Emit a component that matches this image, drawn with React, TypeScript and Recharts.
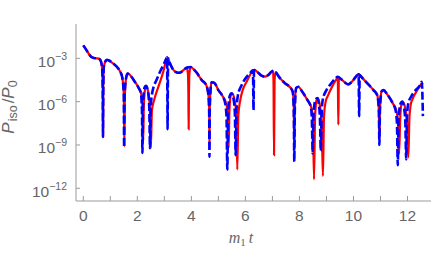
import React from "react"
import { LineChart, Line, XAxis, YAxis } from "recharts"

// time axis (m1 t) and log10(P_iso / P_0)
const redT = [
  0, 0.1, 0.2, 0.3, 0.4, 0.5, 0.6, 0.66, 0.7, 0.72, 0.73, 0.74, 0.76, 0.82, 0.88, 0.95,
  1.1, 1.25, 1.36, 1.44, 1.5, 1.52, 1.54, 1.59, 1.64, 1.75, 1.9, 2.05, 2.15, 2.2, 2.22,
  2.24, 2.29, 2.33, 2.4, 2.46, 2.5, 2.54, 2.62, 2.78, 2.96, 3.06, 3.12, 3.2, 3.3, 3.4,
  3.52, 3.62, 3.72, 3.82, 3.87, 3.89, 3.9, 3.91, 3.93, 3.97, 4.05, 4.2, 4.38, 4.55, 4.63,
  4.66, 4.67, 4.68, 4.71, 4.75, 4.85, 5.0, 5.15, 5.28, 5.35, 5.38, 5.41, 5.47, 5.52, 5.6,
  5.66, 5.7, 5.74, 5.8, 5.9, 6.05, 6.2, 6.33, 6.45, 6.6, 6.73, 6.85, 6.95, 7.02, 7.04,
  7.06, 7.08, 7.12, 7.25, 7.47, 7.65, 7.75, 7.79, 7.81, 7.83, 7.88, 7.96, 8.1, 8.3, 8.44,
  8.5, 8.54, 8.58, 8.64, 8.69, 8.76, 8.82, 8.87, 8.91, 8.97, 9.05, 9.2, 9.35, 9.42, 9.44,
  9.46, 9.55, 9.7, 9.81, 9.95, 10.1, 10.2, 10.3, 10.5, 10.74, 10.88, 10.94, 10.96, 10.98,
  11.04, 11.11, 11.25, 11.45, 11.58, 11.65, 11.69, 11.73, 11.78, 11.84, 11.92, 11.98,
  12.03, 12.07, 12.12, 12.18, 12.3, 12.45, 12.53, 12.57,
]
const redLog = [
  -2.1, -2.38, -2.68, -2.9, -2.98, -3.0, -3.05, -3.25, -3.8, -5.2, -8.4, -5.2, -3.6, -3.2, -3.1, -3.15,
  -3.35, -3.6, -3.9, -4.3, -5.5, -9.1, -5.5, -4.3, -4.05, -4.2, -4.6, -5.05, -5.5, -6.5, -8.7,
  -6.3, -5.1, -4.95, -5.3, -6.3, -9.2, -6.6, -5.9, -4.96, -3.93, -3.2, -3.0, -3.3, -3.7, -3.92,
  -4.0, -3.95, -3.8, -3.65, -4.0, -5.5, -7.9, -5.5, -4.0, -3.6, -3.7, -4.0, -4.5, -4.85, -5.5,
  -6.5, -8.9, -6.5, -5.2, -4.65, -4.7, -5.2, -5.6, -6.1, -6.8, -9.2, -6.6, -5.5, -5.45, -5.9,
  -6.8, -10.7, -6.9, -6.0, -5.2, -4.6, -4.05, -3.8, -3.95, -4.2, -4.27, -4.15, -3.95, -3.87, -4.5,
  -9.7, -4.5, -3.95, -4.3, -4.73, -5.0, -5.3, -6.3, -9.3, -6.3, -5.05, -4.97, -5.3, -5.9, -6.4,
  -7.2, -11.38, -7.0, -5.85, -5.75, -6.3, -7.3, -11.15, -7.0, -6.0, -5.6, -5.0, -4.5, -4.3, -7.6,
  -4.35, -4.45, -4.7, -4.8, -4.6, -4.25, -4.11, -4.3, -4.7, -5.2, -5.55, -6.5, -8.6, -6.5,
  -5.3, -5.2, -5.5, -6.1, -6.6, -7.3, -9.6, -7.2, -6.15, -6.05, -6.5, -7.4,
  -9.86, -7.2, -6.2, -5.85, -5.4, -4.95, -4.73, -4.8,
]

const blueT = [
  0, 0.1, 0.2, 0.3, 0.4, 0.5, 0.6, 0.66, 0.7, 0.72, 0.73, 0.74, 0.76, 0.82, 0.88, 0.95,
  1.1, 1.25, 1.36, 1.44, 1.5, 1.51, 1.53, 1.59, 1.64, 1.75, 1.9, 2.05, 2.13, 2.17, 2.19,
  2.21, 2.27, 2.32, 2.39, 2.44, 2.47, 2.5, 2.55, 2.59, 2.71, 2.84, 3.02, 3.1, 3.11, 3.12,
  3.13, 3.14, 3.2, 3.3, 3.4, 3.52, 3.62, 3.72, 3.82, 3.9, 3.97, 4.05, 4.2, 4.38, 4.55,
  4.63, 4.66, 4.67, 4.68, 4.71, 4.75, 4.85, 5.0, 5.15, 5.25, 5.3, 5.33, 5.36, 5.42, 5.49,
  5.56, 5.61, 5.64, 5.67, 5.72, 5.85, 6.0, 6.17, 6.28, 6.3, 6.32, 6.33, 6.45, 6.6, 6.73,
  6.85, 6.95, 7.04, 7.12, 7.25, 7.47, 7.65, 7.75, 7.79, 7.81, 7.83, 7.88, 7.96, 8.1, 8.3,
  8.42, 8.46, 8.49, 8.52, 8.58, 8.66, 8.72, 8.76, 8.79, 8.82, 8.86, 9.0, 9.15, 9.3, 9.42,
  9.55, 9.7, 9.81, 9.95, 10.1, 10.19, 10.21, 10.23, 10.3, 10.5, 10.74, 10.88, 10.94, 10.96,
  10.98, 11.04, 11.11, 11.25, 11.45, 11.56, 11.61, 11.64, 11.67, 11.73, 11.81, 11.87, 11.92,
  11.95, 11.98, 12.02, 12.15, 12.3, 12.45, 12.53, 12.57,
]
const blueLog = [
  -2.1, -2.38, -2.68, -2.9, -2.98, -3.0, -3.05, -3.25, -3.8, -5.2, -8.45, -5.2, -3.6, -3.2, -3.1, -3.15,
  -3.35, -3.6, -3.9, -4.3, -5.5, -9.15, -5.5, -4.3, -4.05, -4.2, -4.6, -5.05, -5.4, -6.5, -9.55,
  -6.3, -5.0, -4.9, -5.25, -6.3, -9.23, -6.3, -5.4, -5.06, -4.5, -3.93, -3.24, -2.92, -5.0, -7.9,
  -5.0, -3.0, -3.3, -3.7, -3.92, -4.0, -3.95, -3.8, -3.65, -3.62, -3.6, -3.7, -4.0, -4.5, -4.85,
  -5.5, -6.8, -9.82, -6.8, -5.2, -4.65, -4.7, -5.2, -5.6, -6.1, -7.0, -10.7, -6.8, -5.6, -5.42,
  -5.8, -6.8, -9.7, -6.6, -5.6, -4.9, -4.4, -4.04, -3.82, -6.58, -3.85, -3.81, -3.95, -4.2, -4.27,
  -4.15, -3.95, -3.86, -3.95, -4.3, -4.73, -5.0, -5.3, -6.5, -10.15, -6.5, -5.05, -4.97, -5.3, -5.9,
  -6.35, -7.2, -9.58, -7.0, -5.95, -5.75, -6.2, -7.2, -9.4, -7.0, -5.9, -5.2, -4.8, -4.45, -4.27,
  -4.45, -4.7, -4.8, -4.6, -4.25, -4.11, -7.0, -4.15, -4.3, -4.7, -5.2, -5.55, -6.6, -9.0,
  -6.6, -5.3, -5.2, -5.5, -6.1, -6.6, -7.5, -10.4, -7.3, -6.2, -6.0, -6.4, -7.4,
  -10.0, -7.2, -6.2, -5.6, -5.2, -4.9, -4.62, -7.0,
]

const xTicks = [0, 1, 2, 3, 4, 5, 6, 7, 8, 9, 10, 11, 12]
const yTicks = [-12, -9, -6, -3]

const redData = redT.map((t, i) => ({ t, v: redLog[i] }))
const blueData = blueT.map((t, i) => ({ t, v: blueLog[i] }))

const frame = "#9a9a9a"
const textGray = "#666666"
const sans = "'Liberation Sans', Arial, sans-serif"

const BottomTick = (props: any) => {
  const { x, y, payload } = props
  const v = payload.value
  return (
    <g>
      <line x1={x} x2={x} y1={y} y2={y - 5} stroke={frame} strokeWidth={1} />
      {v % 2 === 0 && (
        <text x={x} y={y + 20} textAnchor="middle" fontSize={15.5} fontFamily={sans} fill={textGray}>
          {v}
        </text>
      )}
    </g>
  )
}

const TopTick = (props: any) => {
  const { x, y } = props
  return <line x1={x} x2={x} y1={y} y2={y + 5} stroke={frame} strokeWidth={1} />
}

const LeftTick = (props: any) => {
  const { x, y, payload } = props
  return (
    <g>
      <line x1={x} x2={x + 4} y1={y} y2={y} stroke={frame} strokeWidth={1} />
      <text x={x - 9} y={y + 8.5} textAnchor="end" fontFamily={sans} fill={textGray}>
        <tspan fontSize={15.5}>10</tspan>
        <tspan fontSize={10.5} dy={-7}>{"\u2212" + Math.abs(payload.value)}</tspan>
      </text>
    </g>
  )
}

const RightTick = (props: any) => {
  const { x, y } = props
  return <line x1={x} x2={x - 4} y1={y} y2={y} stroke={frame} strokeWidth={1} />
}

const YLabel = () => (
  <text transform="translate(14,107) rotate(-90)" textAnchor="middle" fontFamily={sans} fill={textGray}>
    <tspan fontSize={17} fontStyle="italic">P</tspan>
    <tspan fontSize={12.5} dy={3} dx={1}>iso</tspan>
    <tspan fontSize={17} dy={-3} dx={2}>/</tspan>
    <tspan fontSize={17} fontStyle="italic">P</tspan>
    <tspan fontSize={12.5} dy={3}>0</tspan>
  </text>
)

const XLabel = () => (
  <text x={241} y={243} textAnchor="middle" fontFamily="'Liberation Serif', 'Times New Roman', serif" fill={textGray}>
    <tspan fontSize={16} fontStyle="italic">m</tspan>
    <tspan fontSize={11} dy={3}>1</tspan>
    <tspan fontSize={16} fontStyle="italic" dy={-3} dx={3}>t</tspan>
  </text>
)

export default function App() {
  return (
    <div style={{ position: "absolute", left: 0, top: 0, width: 436, height: 253, background: "#fff" }}>
      <LineChart width={436} height={253} margin={{ top: 24, right: 5, bottom: 0, left: 0 }}>
        <XAxis
          xAxisId="b"
          dataKey="t"
          type="number"
          domain={[-0.27, 12.87]}
          allowDataOverflow
          ticks={xTicks}
          interval={0}
          height={52}
          axisLine={{ stroke: frame }}
          tickLine={false}
          tickSize={0}
          tickMargin={0}
          tick={BottomTick}
          label={<XLabel />}
        />
        <XAxis
          xAxisId="top"
          orientation="top"
          dataKey="t"
          type="number"
          domain={[-0.27, 12.87]}
          allowDataOverflow
          ticks={xTicks}
          interval={0}
          height={0}
          axisLine={{ stroke: frame }}
          tickLine={false}
          tickSize={0}
          tickMargin={0}
          tick={TopTick}
        />
        <YAxis
          yAxisId="l"
          type="number"
          domain={[-12.88, -0.62]}
          allowDataOverflow
          ticks={yTicks}
          interval={0}
          width={76}
          axisLine={{ stroke: frame }}
          tickLine={false}
          tickSize={0}
          tickMargin={0}
          tick={LeftTick}
          label={<YLabel />}
        />
        <YAxis
          yAxisId="r"
          orientation="right"
          type="number"
          domain={[-12.88, -0.62]}
          allowDataOverflow
          ticks={yTicks}
          interval={0}
          width={0}
          axisLine={{ stroke: frame }}
          tickLine={false}
          tickSize={0}
          tickMargin={0}
          tick={RightTick}
        />
        <Line
          data={redData}
          xAxisId="b"
          yAxisId="l"
          dataKey="v"
          type="monotone"
          stroke="#ff0000"
          strokeWidth={2.2}
          dot={false}
          isAnimationActive={false}
        />
        <Line
          data={blueData}
          xAxisId="b"
          yAxisId="l"
          dataKey="v"
          type="monotone"
          stroke="#0000ff"
          strokeWidth={2.6}
          strokeDasharray="8 3"
          dot={false}
          isAnimationActive={false}
        />
      </LineChart>
    </div>
  )
}
